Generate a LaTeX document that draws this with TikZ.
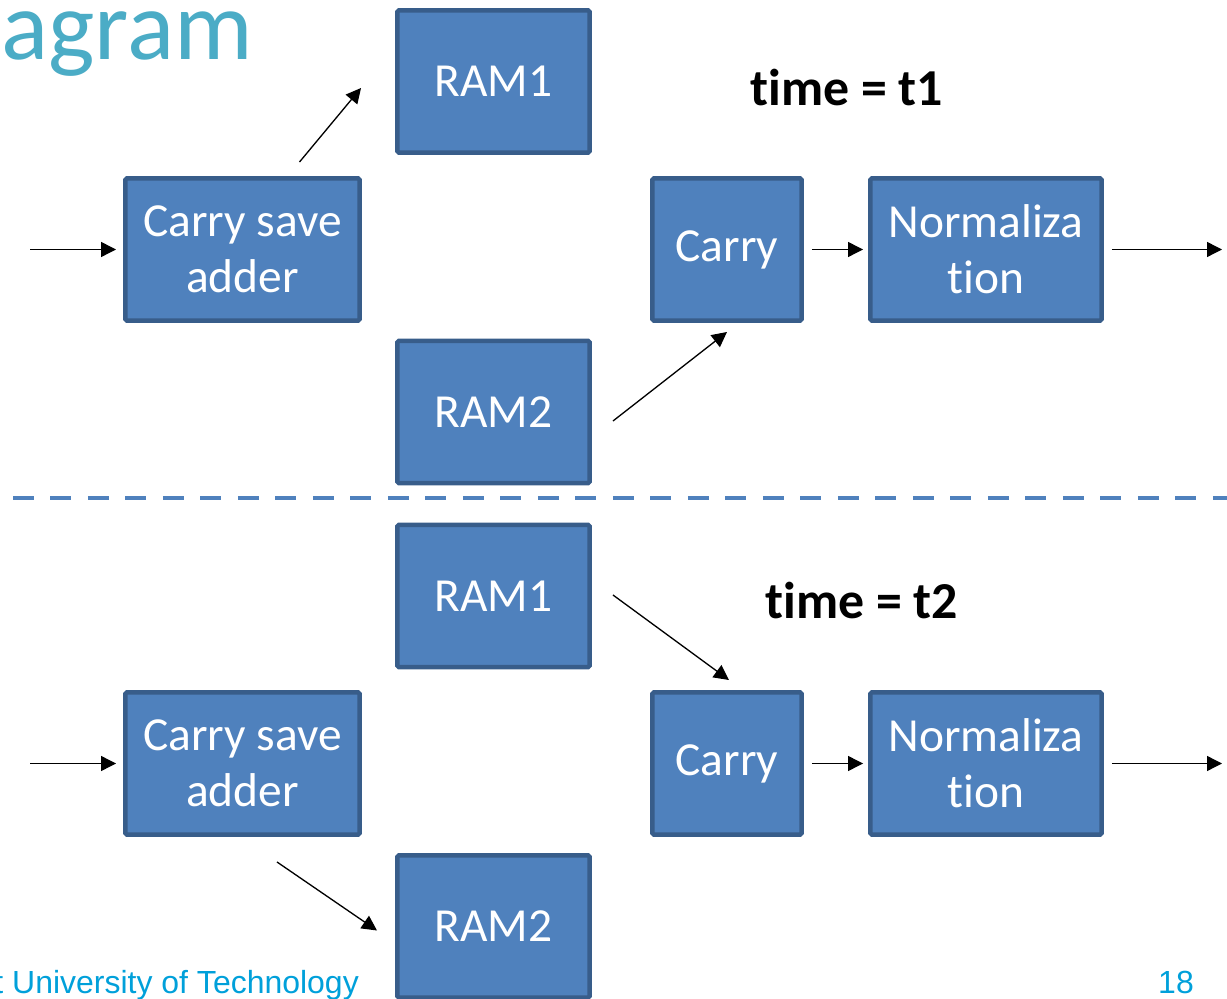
\documentclass[tikz,border=0pt]{standalone}
\usepackage{fontspec}
\setmainfont{Carlito}[Ligatures=NoCommon]
\newfontfamily\footfont{Liberation Sans}
\usetikzlibrary{calc,arrows.meta}
\definecolor{blkfill}{RGB}{79,129,189}
\definecolor{blkline}{RGB}{56,93,138}
\definecolor{titleblue}{RGB}{75,172,198}
\definecolor{footblue}{RGB}{0,160,218}

\begin{document}
\begin{tikzpicture}[x=0.02cm,y=-0.02cm,>={Triangle[length=0.3cm,width=0.3cm]},
  blk/.style={draw=blkline,fill=blkfill,line width=0.09cm,rounded corners=1pt,
    minimum height=2.85cm,inner sep=0pt,text=white,align=center,
    font=\fontsize{27}{32}\selectfont},
  ram/.style={blk,minimum width=3.85cm},
  csa/.style={blk,minimum width=4.69cm},
  car/.style={blk,minimum width=2.99cm},
  nrm/.style={blk,minimum width=4.63cm},
  arr/.style={->,line width=0.75pt},
  gap/.style={shorten <=0.16cm,shorten >=0.1cm},
  tlabel/.style={font=\fontsize{29.5}{32}\selectfont\bfseries},
  foot/.style={anchor=base east,text=footblue,font=\footfont\fontsize{18.2}{20}\selectfont}]
  \useasboundingbox (0,0) rectangle (1227,999);
  \clip (0,0) rectangle (1227,999);

  \node[anchor=base east,text=titleblue,font=\fontsize{56}{60}\selectfont] (title) at (259,60) {Diagram};

  % time = t1
  \node[ram] (ramA1) at (493.5,81.5) {RAM1};
  \node[csa] (csaA) at (242.5,249.5) {Carry save\\adder};
  \node[car] (carA) at (727,249.5) {Carry};
  \node[nrm] (nrmA) at (986,249.5) {Normaliza\\tion};
  \node[ram] (ramA2) at (493.5,412) {RAM2};
  \node[tlabel] (tA) at (847,88) {time = t1};

  \coordinate (inA) at (30,249.5);
  \coordinate (outA) at (1222,249.5);
  \draw[arr,shorten >=0.14cm] (inA) -- (csaA);
  \draw[arr] ($(csaA.north)+(57,-14)$) -- ($(ramA1.west)+(-34,6.5)$);
  \draw[arr] ($(ramA2.east)+(21,9)$) -- ($(carA.south)+(0,9)$);
  \draw[arr,gap] (carA) -- (nrmA);
  \draw[arr,shorten <=0.16cm] (nrmA) -- (outA);

  \draw[blkfill,line width=0.09cm,dash pattern=on 0.42cm off 0.33cm] (13,498) -- (1227,498);

  % time = t2
  \node[ram] (ramB1) at (493.5,596) {RAM1};
  \node[csa] (csaB) at (242.5,763.5) {Carry save\\adder};
  \node[car] (carB) at (727,763.5) {Carry};
  \node[nrm] (nrmB) at (986,763.5) {Normaliza\\tion};
  \node[ram] (ramB2) at (493.5,926.5) {RAM2};
  \node[tlabel] (tB) at (862,601) {time = t2};

  \coordinate (inB) at (30,763.5);
  \coordinate (outB) at (1222,763.5);
  \draw[arr,shorten >=0.14cm] (inB) -- (csaB);
  \draw[arr] ($(ramB1.east)+(21,-1)$) -- ($(carB.north)+(2,-10)$);
  \draw[arr,gap] (carB) -- (nrmB);
  \draw[arr,shorten <=0.16cm] (nrmB) -- (outB);
  \draw[arr] ($(csaB.south)+(34.5,25)$) -- ($(ramB2.west)+(-18,4)$);

  \node[foot] (school) at (365,993) {t University of Technology};
  \node[foot] (page) at (1200,993) {18};
\end{tikzpicture}
\end{document}
